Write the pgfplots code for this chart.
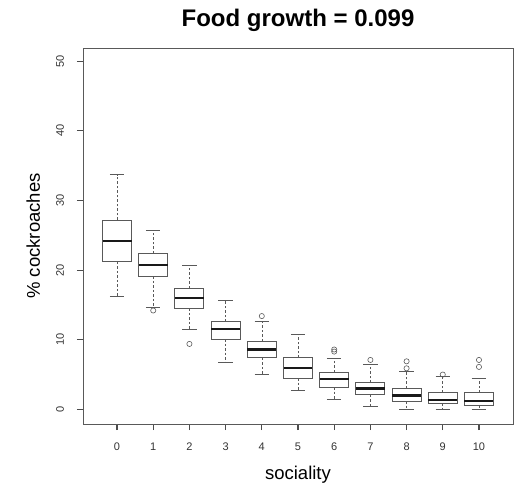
\documentclass[border=0pt]{standalone}
\usepackage{pgfplots}
\pgfplotsset{compat=1.18}
\usepgfplotslibrary{statistics}
\usepackage{fontspec}
\setmainfont{Liberation Sans}
\definecolor{framec}{gray}{0.35}
\pgfplotsset{
  boxplot/draw/lower whisker/.code={%
    \draw[/pgfplots/boxplot/every whisker/.try, dash pattern=on 2.5pt off 2pt]
      (boxplot cs:\pgfplotsboxplotvalue{lower quartile}) -- (boxplot cs:\pgfplotsboxplotvalue{lower whisker});
    \draw[/pgfplots/boxplot/every whisker/.try]
      (boxplot whisker cs:\pgfplotsboxplotvalue{lower whisker},0) -- (boxplot whisker cs:\pgfplotsboxplotvalue{lower whisker},1);
  },
  boxplot/draw/upper whisker/.code={%
    \draw[/pgfplots/boxplot/every whisker/.try, dash pattern=on 2.5pt off 2pt]
      (boxplot cs:\pgfplotsboxplotvalue{upper quartile}) -- (boxplot cs:\pgfplotsboxplotvalue{upper whisker});
    \draw[/pgfplots/boxplot/every whisker/.try]
      (boxplot whisker cs:\pgfplotsboxplotvalue{upper whisker},0) -- (boxplot whisker cs:\pgfplotsboxplotvalue{upper whisker},1);
  },
  mybox/.style={solid, draw=framec, line width=0.8pt, mark=o, mark size=2.6pt,
    mark options={solid, draw=framec, line width=0.6pt},
    boxplot/draw direction=y,
    boxplot/box extend=0.8, boxplot/whisker extend=0.4,
    boxplot/every median/.style={line width=2.2pt, draw=black!90},
    boxplot/every whisker/.style={line width=0.6pt},
    boxplot/every box/.style={line width=0.9pt}},
}
\begin{document}
\begin{tikzpicture}
\begin{axis}[
  scale only axis, width=430pt, height=376pt,
  xmin=-0.94, xmax=10.94, ymin=-2.1, ymax=51.9,
  xtick={0,...,10}, ytick={0,10,20,30,40,50},
  xtick pos=bottom, ytick pos=left, tick align=outside, major tick length=6pt,
  every tick/.style={black!70, line width=1.1pt},
  axis line style={draw=framec, line width=0.9pt},
  ticklabel style={font=\fontsize{11}{12}\selectfont, text=black!80},
  xticklabel style={anchor=base, yshift=-20pt},
  yticklabel style={rotate=90, anchor=base, yshift=13pt},
  /pgf/number format/assume math mode=true,
  clip=false,
]
\addplot+[mybox, boxplot prepared={draw position=0, lower whisker=16.3, lower quartile=21.2, median=24.2, upper quartile=27.2, upper whisker=33.7}] coordinates {};
\addplot+[mybox, boxplot prepared={draw position=1, lower whisker=14.7, lower quartile=19.1, median=20.7, upper quartile=22.4, upper whisker=25.7}] coordinates {(1,14.2)};
\addplot+[mybox, boxplot prepared={draw position=2, lower whisker=11.5, lower quartile=14.5, median=16.0, upper quartile=17.4, upper whisker=20.7}] coordinates {(2,9.4)};
\addplot+[mybox, boxplot prepared={draw position=3, lower whisker=6.7, lower quartile=10.1, median=11.5, upper quartile=12.6, upper whisker=15.6}] coordinates {};
\addplot+[mybox, boxplot prepared={draw position=4, lower whisker=5.1, lower quartile=7.4, median=8.6, upper quartile=9.8, upper whisker=12.6}] coordinates {(4,13.4)};
\addplot+[mybox, boxplot prepared={draw position=5, lower whisker=2.7, lower quartile=4.5, median=5.9, upper quartile=7.4, upper whisker=10.8}] coordinates {};
\addplot+[mybox, boxplot prepared={draw position=6, lower whisker=1.5, lower quartile=3.2, median=4.4, upper quartile=5.3, upper whisker=7.4}] coordinates {(6,8.3) (6,8.6)};
\addplot+[mybox, boxplot prepared={draw position=7, lower whisker=0.5, lower quartile=2.1, median=3.0, upper quartile=3.8, upper whisker=6.5}] coordinates {(7,7.1)};
\addplot+[mybox, boxplot prepared={draw position=8, lower whisker=0.0, lower quartile=1.2, median=2.0, upper quartile=3.0, upper whisker=5.4}] coordinates {(8,5.9) (8,6.9)};
\addplot+[mybox, boxplot prepared={draw position=9, lower whisker=0.0, lower quartile=0.9, median=1.4, upper quartile=2.4, upper whisker=4.7}] coordinates {(9,5.0)};
\addplot+[mybox, boxplot prepared={draw position=10, lower whisker=0.0, lower quartile=0.6, median=1.2, upper quartile=2.4, upper whisker=4.5}] coordinates {(10,6.1) (10,7.1)};
\node[anchor=base, font=\bfseries\fontsize{24}{26}\selectfont] at ([yshift=21.3pt]rel axis cs:0.5,1) {Food growth = 0.099};
\node[anchor=base, font=\fontsize{18.5}{20}\selectfont] at ([yshift=-55pt]rel axis cs:0.5,0) {sociality};
\node[anchor=base, rotate=90, font=\fontsize{18.5}{20}\selectfont] at ([xshift=-43pt]rel axis cs:0,0.5) {\% cockroaches};
\end{axis}
\pgfresetboundingbox
\path[use as bounding box] (-83pt,-61pt) rectangle (434pt,424pt);
\end{tikzpicture}
\end{document}
